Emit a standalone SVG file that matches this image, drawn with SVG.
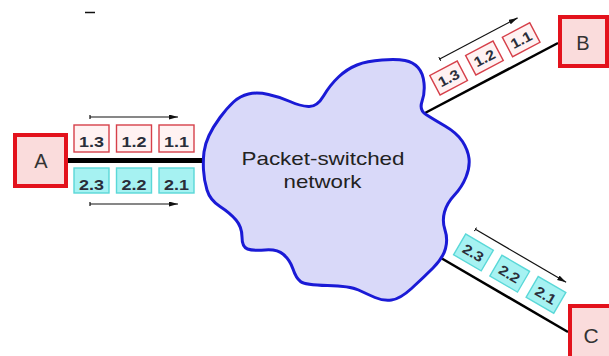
<svg xmlns="http://www.w3.org/2000/svg" width="609" height="356" viewBox="0 0 609 356">
<defs>
<marker id="ah" markerUnits="userSpaceOnUse" markerWidth="10" markerHeight="6" refX="9" refY="2.5" orient="auto">
<path d="M0,0 L9,2.5 L0,5 z" fill="#111"/>
</marker>
<marker id="tick" markerUnits="userSpaceOnUse" markerWidth="2" markerHeight="6" refX="0.6" refY="2.5" orient="auto">
<path d="M0.6,0.5 L0.6,4.5" stroke="#111" stroke-width="1.2"/>
</marker>
</defs>
<style>
.host{fill:#fadcdc;stroke:#e3121c;stroke-width:4}
.hlabel{font-family:"Liberation Sans",Arial,sans-serif;font-size:20px;fill:#333;text-anchor:middle}
.pr{fill:#fff2f2;stroke:#d6404a;stroke-width:1.4}
.pc{fill:#a6f2f2;stroke:#5ad8d8;stroke-width:1.4}
.pl{font-family:"Liberation Sans",Arial,sans-serif;font-weight:bold;font-size:15px;fill:#2a2e3a;text-anchor:middle}
.pls{font-family:"Liberation Sans",Arial,sans-serif;font-weight:bold;font-size:14px;fill:#2a2e3a;text-anchor:middle}
.link{stroke:#000;fill:none}
.arr{stroke:#111;stroke-width:1.2;fill:none;marker-end:url(#ah);marker-start:url(#tick)}
.cloud{fill:#d9d9f9;stroke:#1a1ad6;stroke-width:3;stroke-linejoin:round}
.ctext{font-family:"Liberation Sans",Arial,sans-serif;font-size:19px;fill:#222;text-anchor:middle}
</style>
<line x1="85" y1="12.5" x2="95" y2="12.5" stroke="#111" stroke-width="1.5"/>
<g id="connectors">
<line class="link" x1="68" y1="160.5" x2="208" y2="160.5" stroke-width="5"/>
<line class="link" x1="425" y1="113" x2="558" y2="43" stroke-width="2.5"/>
<line class="link" x1="441" y1="258" x2="568" y2="332" stroke-width="2.5"/>
</g>
<g id="network">
<path class="cloud" d="M203.5,170 Q203,160 204,152 Q205,144 209,135.5 Q213,127 220,117.5 Q227,108 233.5,102 Q240,96 248.5,94 Q257,92 268.5,94.5 Q280,97 290,101.5 Q300,106 308.5,106.5 Q317,107 323.5,96 Q330,85 338.5,77 Q347,69 357,65 Q367,61 382,60 Q397,59 405,60.5 Q413,62 418,67.5 Q423,73 424,83 Q425,93 422,101.5 Q419,110 426,114.5 Q433,119 445,126 Q457,133 462.5,141.5 Q468,150 469,158.5 Q470,167 466,177 Q462,187 454.5,195 Q447,203 444.5,212 Q442,221 445,230 Q448,239 445.5,248.5 Q443,258 433,268 Q423,278 411.5,288.5 Q400,299 391.5,300 Q383,301 375,297.5 Q367,294 358.5,290 Q350,286 327.5,285.5 Q305,285 300.5,281.5 Q296,278 293,269 Q290,260 283.5,254.5 Q277,249 265,250 Q253,251 247.5,249 Q242,247 242,237 Q242,227 236,220 Q230,213 220,206.5 Q210,200 207,190 Q204,180 203.5,170 Z"/>
<text class="ctext" x="323" y="165" textLength="163" lengthAdjust="spacingAndGlyphs">Packet-switched</text>
<text class="ctext" x="322.5" y="188" textLength="78" lengthAdjust="spacingAndGlyphs">network</text>
</g>
<g id="A">
<rect class="host" x="15" y="135" width="51" height="51"/>
<text class="hlabel" x="41" y="168">A</text>
</g>
<g id="B">
<rect class="host" x="560" y="17" width="47" height="49"/>
<text class="hlabel" x="583" y="50">B</text>
</g>
<g id="C">
<rect class="host" x="570" y="306" width="46" height="58"/>
<text class="hlabel" x="591" y="343" style="font-size:21px">C</text>
</g>
<g id="packets-A">
<line class="arr" x1="90" y1="117" x2="178" y2="117"/>
<rect class="pr" x="74" y="125" width="35" height="27"/>
<text class="pl" x="91.5" y="147" textLength="25" lengthAdjust="spacingAndGlyphs">1.3</text>
<rect class="pr" x="116.5" y="125" width="35" height="27"/>
<text class="pl" x="134" y="147" textLength="25" lengthAdjust="spacingAndGlyphs">1.2</text>
<rect class="pr" x="159" y="125" width="35" height="27"/>
<text class="pl" x="176.5" y="147" textLength="25" lengthAdjust="spacingAndGlyphs">1.1</text>
<rect class="pc" x="74" y="168" width="35" height="25"/>
<text class="pl" x="91.5" y="190" textLength="25" lengthAdjust="spacingAndGlyphs">2.3</text>
<rect class="pc" x="116.5" y="168" width="35" height="25"/>
<text class="pl" x="134" y="190" textLength="25" lengthAdjust="spacingAndGlyphs">2.2</text>
<rect class="pc" x="159" y="168" width="35" height="25"/>
<text class="pl" x="176.5" y="190" textLength="25" lengthAdjust="spacingAndGlyphs">2.1</text>
<line class="arr" x1="90" y1="204" x2="178" y2="204"/>
</g>
<g id="packets-B" transform="translate(427,112) rotate(-27.8)">
<line class="arr" x1="36" y1="-41" x2="124" y2="-41"/>
<rect class="pr" x="19.5" y="-31" width="31" height="22"/>
<text class="pls" x="35" y="-15" textLength="22" lengthAdjust="spacingAndGlyphs">1.3</text>
<rect class="pr" x="60.5" y="-32" width="31" height="22"/>
<text class="pls" x="76" y="-16" textLength="22" lengthAdjust="spacingAndGlyphs">1.2</text>
<rect class="pr" x="101.5" y="-31" width="31" height="22"/>
<text class="pls" x="117" y="-15" textLength="22" lengthAdjust="spacingAndGlyphs">1.1</text>
</g>
<g id="packets-C" transform="translate(443,259) rotate(30.3)">
<line class="arr" x1="13" y1="-42" x2="118" y2="-42"/>
<rect class="pc" x="7" y="-33" width="32" height="24"/>
<text class="pls" x="23" y="-15.5" textLength="22" lengthAdjust="spacingAndGlyphs">2.3</text>
<rect class="pc" x="49" y="-33" width="32" height="24"/>
<text class="pls" x="65" y="-15.5" textLength="22" lengthAdjust="spacingAndGlyphs">2.2</text>
<rect class="pc" x="91" y="-33" width="32" height="24"/>
<text class="pls" x="107" y="-15.5" textLength="22" lengthAdjust="spacingAndGlyphs">2.1</text>
</g>
</svg>
